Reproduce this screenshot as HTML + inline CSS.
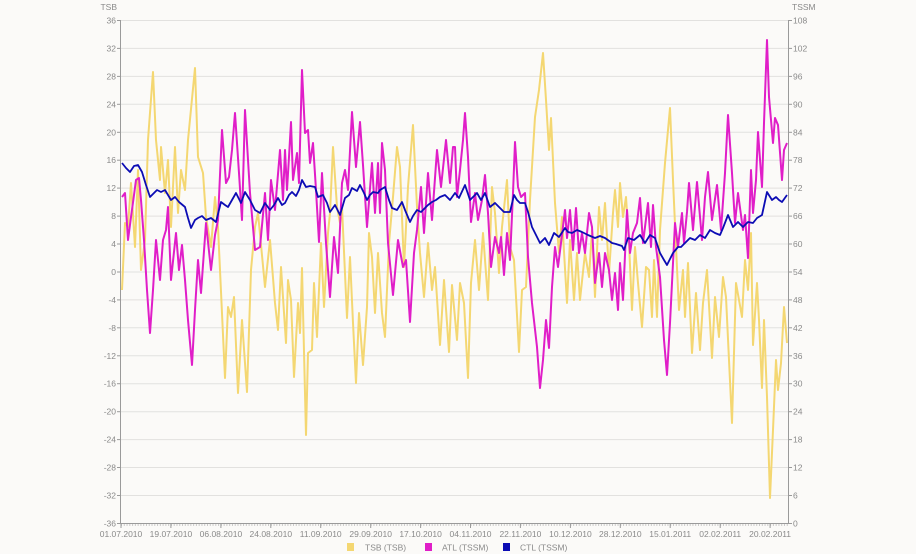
<!DOCTYPE html>
<html><head><meta charset="utf-8"><style>
html,body{margin:0;padding:0;background:#fbfaf8;}
svg{display:block;}
text{font-family:"Liberation Sans",sans-serif;font-size:8.5px;fill:#8a8a8a;}
</style></head><body>
<svg width="916" height="554" viewBox="0 0 916 554" xmlns="http://www.w3.org/2000/svg">
<rect x="0" y="0" width="916" height="554" fill="#fbfaf8"/>
<g stroke="#e2e1df" stroke-width="1">
<line x1="120" y1="20.5" x2="788" y2="20.5"/>
<line x1="120" y1="48.4" x2="788" y2="48.4"/>
<line x1="120" y1="76.4" x2="788" y2="76.4"/>
<line x1="120" y1="104.3" x2="788" y2="104.3"/>
<line x1="120" y1="132.3" x2="788" y2="132.3"/>
<line x1="120" y1="160.2" x2="788" y2="160.2"/>
<line x1="120" y1="188.1" x2="788" y2="188.1"/>
<line x1="120" y1="216.1" x2="788" y2="216.1"/>
<line x1="120" y1="244.0" x2="788" y2="244.0"/>
<line x1="120" y1="272.0" x2="788" y2="272.0"/>
<line x1="120" y1="299.9" x2="788" y2="299.9"/>
<line x1="120" y1="327.8" x2="788" y2="327.8"/>
<line x1="120" y1="355.8" x2="788" y2="355.8"/>
<line x1="120" y1="383.7" x2="788" y2="383.7"/>
<line x1="120" y1="411.7" x2="788" y2="411.7"/>
<line x1="120" y1="439.6" x2="788" y2="439.6"/>
<line x1="120" y1="467.5" x2="788" y2="467.5"/>
<line x1="120" y1="495.5" x2="788" y2="495.5"/>
</g>
<!-- axes -->
<g stroke="#9a9a9a" stroke-width="1" fill="none">
<line x1="120.5" y1="20" x2="120.5" y2="523.5"/>
<line x1="788.5" y1="20" x2="788.5" y2="523.5"/>
<line x1="120" y1="523.5" x2="789" y2="523.5"/>
<line x1="121" y1="525" x2="789" y2="525" stroke-dasharray="1 1.774"/>
</g>
<g stroke="#9a9a9a" stroke-width="1">
<line x1="117" y1="20.5" x2="120" y2="20.5"/><line x1="117" y1="48.4" x2="120" y2="48.4"/><line x1="117" y1="76.4" x2="120" y2="76.4"/><line x1="117" y1="104.3" x2="120" y2="104.3"/><line x1="117" y1="132.3" x2="120" y2="132.3"/><line x1="117" y1="160.2" x2="120" y2="160.2"/><line x1="117" y1="188.1" x2="120" y2="188.1"/><line x1="117" y1="216.1" x2="120" y2="216.1"/><line x1="117" y1="244.0" x2="120" y2="244.0"/><line x1="117" y1="272.0" x2="120" y2="272.0"/><line x1="117" y1="299.9" x2="120" y2="299.9"/><line x1="117" y1="327.8" x2="120" y2="327.8"/><line x1="117" y1="355.8" x2="120" y2="355.8"/><line x1="117" y1="383.7" x2="120" y2="383.7"/><line x1="117" y1="411.7" x2="120" y2="411.7"/><line x1="117" y1="439.6" x2="120" y2="439.6"/><line x1="117" y1="467.5" x2="120" y2="467.5"/><line x1="117" y1="495.5" x2="120" y2="495.5"/><line x1="117" y1="523.5" x2="120" y2="523.5"/>
<line x1="789" y1="20.5" x2="792" y2="20.5"/><line x1="789" y1="48.4" x2="792" y2="48.4"/><line x1="789" y1="76.4" x2="792" y2="76.4"/><line x1="789" y1="104.3" x2="792" y2="104.3"/><line x1="789" y1="132.3" x2="792" y2="132.3"/><line x1="789" y1="160.2" x2="792" y2="160.2"/><line x1="789" y1="188.1" x2="792" y2="188.1"/><line x1="789" y1="216.1" x2="792" y2="216.1"/><line x1="789" y1="244.0" x2="792" y2="244.0"/><line x1="789" y1="272.0" x2="792" y2="272.0"/><line x1="789" y1="299.9" x2="792" y2="299.9"/><line x1="789" y1="327.8" x2="792" y2="327.8"/><line x1="789" y1="355.8" x2="792" y2="355.8"/><line x1="789" y1="383.7" x2="792" y2="383.7"/><line x1="789" y1="411.7" x2="792" y2="411.7"/><line x1="789" y1="439.6" x2="792" y2="439.6"/><line x1="789" y1="467.5" x2="792" y2="467.5"/><line x1="789" y1="495.5" x2="792" y2="495.5"/><line x1="789" y1="523.5" x2="792" y2="523.5"/>
<line x1="121" y1="524" x2="121" y2="528"/><line x1="170.9" y1="524" x2="170.9" y2="528"/><line x1="220.9" y1="524" x2="220.9" y2="528"/><line x1="270.8" y1="524" x2="270.8" y2="528"/><line x1="320.7" y1="524" x2="320.7" y2="528"/><line x1="370.7" y1="524" x2="370.7" y2="528"/><line x1="420.6" y1="524" x2="420.6" y2="528"/><line x1="470.5" y1="524" x2="470.5" y2="528"/><line x1="520.4" y1="524" x2="520.4" y2="528"/><line x1="570.4" y1="524" x2="570.4" y2="528"/><line x1="620.3" y1="524" x2="620.3" y2="528"/><line x1="670.2" y1="524" x2="670.2" y2="528"/><line x1="720.2" y1="524" x2="720.2" y2="528"/><line x1="770.1" y1="524" x2="770.1" y2="528"/>
</g>
<!-- left labels -->
<g text-anchor="end">
<text x="117" y="10">TSB</text>
<text x="116" y="23.5">36</text><text x="116" y="51.4">32</text><text x="116" y="79.4">28</text><text x="116" y="107.3">24</text><text x="116" y="135.3">20</text><text x="116" y="163.2">16</text><text x="116" y="191.1">12</text><text x="116" y="219.1">8</text><text x="116" y="247">4</text><text x="116" y="275">0</text><text x="116" y="302.9">-4</text><text x="116" y="330.8">-8</text><text x="116" y="358.8">-12</text><text x="116" y="386.7">-16</text><text x="116" y="414.7">-20</text><text x="116" y="442.6">-24</text><text x="116" y="470.5">-28</text><text x="116" y="498.5">-32</text><text x="116" y="526.5">-36</text>
</g>
<g text-anchor="start">
<text x="792" y="10">TSSM</text>
<text x="793" y="23.5">108</text><text x="793" y="51.4">102</text><text x="793" y="79.4">96</text><text x="793" y="107.3">90</text><text x="793" y="135.3">84</text><text x="793" y="163.2">78</text><text x="793" y="191.1">72</text><text x="793" y="219.1">66</text><text x="793" y="247">60</text><text x="793" y="275">54</text><text x="793" y="302.9">48</text><text x="793" y="330.8">42</text><text x="793" y="358.8">36</text><text x="793" y="386.7">30</text><text x="793" y="414.7">24</text><text x="793" y="442.6">18</text><text x="793" y="470.5">12</text><text x="793" y="498.5">6</text><text x="793" y="526.5">0</text>
</g>
<g text-anchor="middle">
<text x="121" y="537">01.07.2010</text><text x="170.9" y="537">19.07.2010</text><text x="220.9" y="537">06.08.2010</text><text x="270.8" y="537">24.08.2010</text><text x="320.7" y="537">11.09.2010</text><text x="370.7" y="537">29.09.2010</text><text x="420.6" y="537">17.10.2010</text><text x="470.5" y="537">04.11.2010</text><text x="520.4" y="537">22.11.2010</text><text x="570.4" y="537">10.12.2010</text><text x="620.3" y="537">28.12.2010</text><text x="670.2" y="537">15.01.2011</text><text x="720.2" y="537">02.02.2011</text><text x="770.1" y="537">20.02.2011</text>
</g>
<!-- series -->
<g fill="none" stroke-width="2" stroke-linejoin="round">
<polyline stroke="#f4d772" points="122,290 125,223 128,227 131,183 135,247 138,170 141,270 145,240 148,140 153,72 156,140 160,180 161,147 165,193 168,160 171,227 175,147 178,213 181,170 185,190 188,140 195,68 198,157 203,173 206,217 211,247 215,197 218,227 225,378 228,307 231,317 234,297 238,393 242,320 247,392 251,270 255,227 258,213 265,287 270,240 275,303 278,330 281,267 286,343 288,280 291,300 294,377 298,303 300,333 302,268 306,435 308,353 312,350 314,283 317,337 321,243 324,307 328,233 330,213 333,147 337,207 340,223 342,207 347,318 350,257 353,323 356,383 359,313 363,365 367,307 369,233 372,257 375,313 378,253 382,313 385,337 389,243 393,197 397,147 400,167 404,267 408,187 413,125 417,207 420,253 424,297 428,243 432,290 435,267 440,345 444,280 449,352 452,285 457,340 460,283 464,303 468,378 471,283 475,240 479,290 483,233 488,300 492,187 495,213 499,273 502,227 507,180 510,247 514,260 519,352 522,290 526,287 530,200 535,117 539,90 543,53 546,100 549,150 551,118 555,203 559,253 562,217 567,303 570,240 574,300 577,253 580,300 585,253 589,277 592,230 595,297 599,207 602,240 605,203 609,273 613,213 615,190 618,227 620,183 623,217 626,197 629,243 632,310 635,247 638,283 642,327 646,267 649,270 652,317 654,260 657,317 660,230 665,163 670,108 673,180 676,247 679,310 683,270 685,317 688,263 692,353 696,293 700,350 703,303 707,270 712,358 715,297 719,337 723,277 726,297 732,423 736,283 742,317 745,260 748,290 751,233 753,345 757,283 759,320 762,388 764,320 767,397 770,498 773,430 776,360 778,390 781,363 784,307 787,343"/>
<polyline stroke="#e01ec8" points="122,197 125,193 128,240 131,217 134,195 136,180 139,178 141,200 144,240 147,290 150,333 153,290 156,240 160,280 163,240 166,230 168,207 171,280 176,233 179,270 182,245 185,280 188,320 192,365 195,310 198,260 201,293 206,223 211,270 215,235 218,220 222,130 226,183 229,177 232,150 235,113 239,173 242,220 245,110 250,193 255,250 260,247 265,193 268,240 271,180 275,210 280,150 283,200 285,150 287,190 289,157 291,122 293,180 297,153 299,183 302,70 305,133 308,130 310,163 313,143 316,190 319,242 322,173 326,243 330,297 334,237 338,273 342,183 345,170 348,190 352,112 356,167 360,122 363,165 367,227 372,163 375,213 378,163 380,213 382,143 385,170 388,243 393,295 398,240 403,267 406,260 410,322 414,253 417,230 421,187 424,233 428,173 432,220 437,150 441,187 446,140 450,183 453,147 455,147 457,197 460,170 463,140 465,113 468,157 471,222 475,193 478,220 482,200 485,175 488,213 491,267 495,237 499,253 501,237 504,275 507,233 510,260 513,193 515,142 518,187 521,197 525,193 528,257 532,303 537,347 540,388 543,360 546,320 549,348 552,287 555,247 558,267 561,243 565,210 567,238 570,210 573,250 576,208 579,253 582,233 585,253 589,213 592,227 595,283 599,253 602,287 605,253 609,270 612,300 615,273 618,310 620,263 623,300 627,210 630,253 633,233 637,223 640,198 643,243 648,203 651,247 653,205 656,247 660,277 664,340 667,375 670,323 673,263 675,223 678,247 682,213 684,243 687,212 689,183 693,230 697,182 702,240 705,197 708,172 712,220 717,185 721,230 725,173 728,115 732,173 735,223 738,193 743,230 745,215 748,258 751,170 753,213 756,180 758,132 762,187 764,123 767,40 769,97 773,143 775,118 778,125 782,180 784,150 787,143"/>
<polyline stroke="#0c0cb4" stroke-width="1.8" points="122,163 126,168 130,172 134,166 138,165 142,172 146,185 150,197 154,193 157,190 161,192 165,190 168,195 171,200 175,197 179,202 185,207 188,218 191,228 195,220 198,218 202,216 206,220 211,218 216,222 221,202 225,205 228,207 232,200 236,193 241,203 245,192 250,200 255,210 260,213 265,203 270,210 274,205 278,198 282,205 285,203 289,195 292,192 296,196 299,190 302,180 306,187 310,186 315,187 318,197 323,195 327,203 330,212 335,205 340,215 345,198 349,195 352,188 357,191 360,185 364,193 367,200 370,195 373,192 378,193 380,190 385,187 389,200 392,208 397,210 402,202 405,210 410,222 413,216 417,210 421,212 425,208 428,205 432,202 436,200 440,197 445,195 450,200 455,193 459,198 465,185 470,200 474,196 477,193 481,200 485,193 490,207 495,203 500,208 504,212 510,212 514,195 517,200 520,203 525,203 528,212 532,227 536,235 540,243 545,238 549,245 554,233 559,237 565,228 568,232 572,233 577,230 582,232 588,235 595,238 600,236 605,238 612,243 616,244 619,245 622,246 624,250 628,238 634,240 640,235 645,243 650,235 655,238 660,253 664,260 667,265 673,253 678,247 681,247 685,243 690,238 695,240 700,235 705,238 710,230 715,233 720,235 723,228 728,215 733,227 738,222 743,227 748,222 753,223 757,218 762,215 767,192 772,200 776,197 779,200 782,202 787,195"/>
</g>
<!-- legend -->
<rect x="347" y="543" width="7" height="8" fill="#f4d772"/>
<text x="365" y="550.5">TSB (TSB)</text>
<rect x="425" y="543" width="7" height="8" fill="#e01ec8"/>
<text x="442" y="550.5">ATL (TSSM)</text>
<rect x="503" y="543" width="7" height="8" fill="#0c0cb4"/>
<text x="520" y="550.5">CTL (TSSM)</text>
</svg>
</body></html>
